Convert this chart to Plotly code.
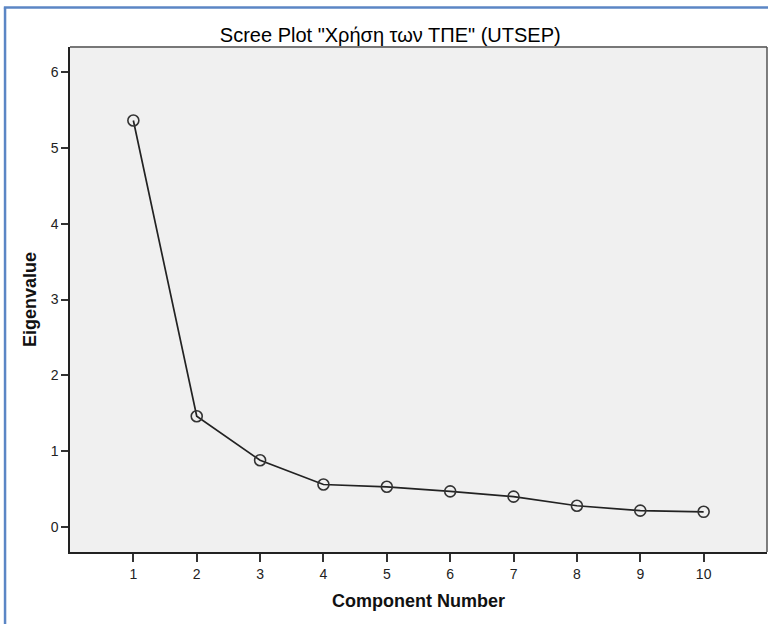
import plotly.graph_objects as go

components = [1, 2, 3, 4, 5, 6, 7, 8, 9, 10]
eigenvalues = [5.36, 1.46, 0.88, 0.56, 0.53, 0.47, 0.40, 0.28, 0.215, 0.20]
y_ticks = [0, 1, 2, 3, 4, 5, 6]

W, H = 768, 624
ML, MR, MT, MB = 69.5, 1, 47, 72
PW = W - ML - MR
PH = H - MT - MB

def px_x(p):
    return (p - ML) / PW

def px_y(p):
    return (H - MB - p) / PH

font = "Arial, Liberation Sans, sans-serif"

fig = go.Figure()
fig.add_trace(go.Scatter(
    x=components, y=eigenvalues, mode="lines+markers",
    line=dict(color="#222222", width=1.7),
    marker=dict(symbol="circle-open", size=11, color="#333333",
                line=dict(width=1.6, color="#333333")),
    showlegend=False, hoverinfo="x+y",
))

fig.update_layout(
    width=W, height=H,
    margin=dict(l=ML, r=MR, t=MT, b=MB, pad=0),
    paper_bgcolor="white", plot_bgcolor="#F0F0F0",
    title=dict(text='Scree Plot "Χρήση των ΤΠΕ" (UTSEP)',
               x=px_x(390), xref="paper", xanchor="center",
               y=1 - 35 / H, yref="container", yanchor="middle",
               font=dict(family=font, size=20, color="#000000")),
    xaxis=dict(range=[0, 11], tickvals=components, ticks="outside", ticklen=8,
               tickwidth=1.5, tickcolor="#333333", showgrid=False, zeroline=False,
               showline=True, linecolor="#222222", linewidth=1.5,
               tickfont=dict(family=font, size=14, color="#222222"),
               title=dict(text="<b>Component Number</b>", standoff=14,
                          font=dict(family=font, size=18, color="#111111"))),
    yaxis=dict(range=[-0.33, 6.33], tickvals=y_ticks, ticks="outside", ticklen=7,
               tickwidth=1.5, tickcolor="#333333", showgrid=False, zeroline=False,
               showline=True, linecolor="#222222", linewidth=1.5,
               tickfont=dict(family=font, size=14, color="#222222"),
               title=dict(text="<b>Eigenvalue</b>", standoff=9,
                          font=dict(family=font, size=18, color="#111111"))),
)

# plot frame (top/right lighter gray)
fig.add_shape(type="line", xref="paper", yref="paper", x0=0, x1=1, y0=1, y1=1,
              line=dict(color="#777777", width=2))
fig.add_shape(type="line", xref="paper", yref="paper", x0=1, x1=1, y0=0, y1=1,
              line=dict(color="#555555", width=1.5))

# outer blue border (left and top)
fig.add_shape(type="line", xref="paper", yref="paper",
              x0=px_x(4.5), x1=px_x(4.5), y0=px_y(H + 5), y1=px_y(7.5),
              line=dict(color="#5B86C5", width=2.5))
fig.add_shape(type="line", xref="paper", yref="paper",
              x0=px_x(3.3), x1=px_x(W + 5), y0=px_y(7.5), y1=px_y(7.5),
              line=dict(color="#5B86C5", width=2.5))

fig.write_html("out.html")
